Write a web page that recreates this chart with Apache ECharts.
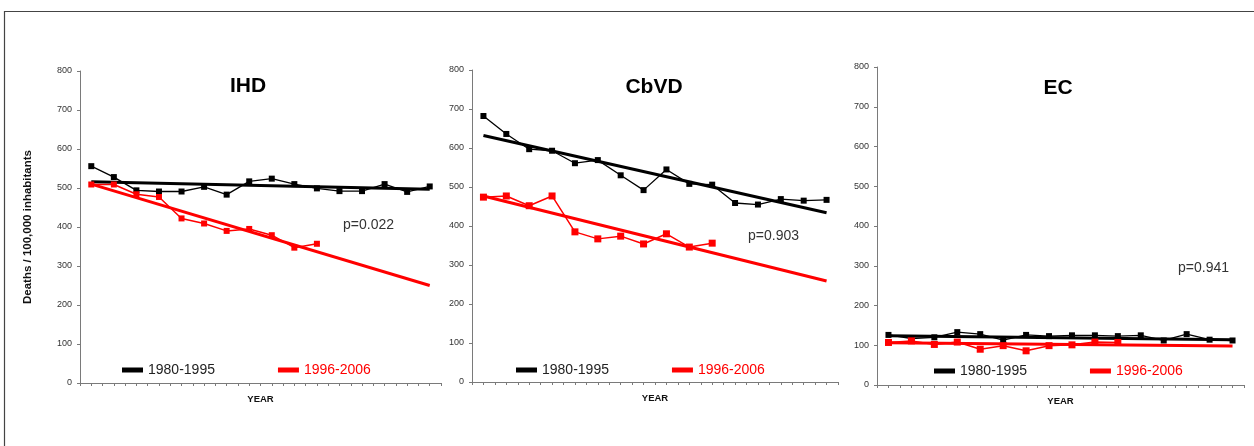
<!DOCTYPE html>
<html>
<head>
<meta charset="utf-8">
<script src="https://cdn.jsdelivr.net/npm/echarts@6/dist/echarts.min.js"></script>
<style>
  html, body { margin: 0; padding: 0; background: #fff; }
  #chart { width: 1254px; height: 446px; }
</style>
</head>
<body>
<div id="chart"></div>
<script>
// years are plotted by index (1980-1995 -> 0..15, 1996-2006 -> 0..10)
const periods = ['1980-1995', '1996-2006'];
const panelTitles = ['IHD', 'CbVD', 'EC'];
const pValues = ['p=0.022', 'p=0.903', 'p=0.941'];
const yTicks = [0, 800, 100]; // min, max, interval

const ihdEarly = [556, 528, 494, 491, 491, 503, 483, 517, 524, 510, 499, 492, 492, 510, 490, 504];
const ihdLate = [509, 509, 484, 477, 422, 409, 390, 395, 379, 347, 357];
const ihdTrendEarly = [516, 497];
const ihdTrendLate = [510, 250];

const cbvdEarly = [682, 636, 597, 593, 561, 569, 530, 492, 545, 508, 506, 459, 455, 469, 465, 467];
const cbvdLate = [474, 477, 452, 477, 385, 367, 374, 354, 380, 346, 356];
const cbvdTrendEarly = [632, 434];
const cbvdTrendLate = [477, 259];

const ecEarly = [126, 117, 120, 133, 128, 113, 126, 123, 125, 125, 123, 125, 112, 128, 114, 112];
const ecLate = [107, 111, 102, 108, 90, 99, 86, 99, 101, 108, 107];
const ecTrendEarly = [124, 114];
const ecTrendLate = [106, 98];

const trendEnds = [0, 15]; // trend lines span the whole 16-year range

const FONT = 'Arial, "Liberation Sans", sans-serif';
const RED = '#ff0000';

// layout of the three panels
const grids = [
  { left: 80, top: 71, width: 361, height: 312 },
  { left: 472, top: 70, width: 366, height: 312 },
  { left: 877, top: 67, width: 367, height: 318 }
];
const titlePos = [[248, 86], [654, 87], [1058, 88]];
const pPos = [[343, 218], [748, 229], [1178, 261]];
const legendPos = [[122, 363], [516, 363], [934, 364]];

const panels = [
  { early: ihdEarly, late: ihdLate, tE: ihdTrendEarly, tL: ihdTrendLate, lateSym: 6 },
  { early: cbvdEarly, late: cbvdLate, tE: cbvdTrendEarly, tL: cbvdTrendLate, lateSym: 7 },
  { early: ecEarly, late: ecLate, tE: ecTrendEarly, tL: ecTrendLate, lateSym: 7 }
];

let xAxes = [], yAxes = [], series = [], legends = [], graphics = [];

panels.forEach((p, i) => {
  xAxes.push({
    type: 'value',
    gridIndex: i,
    min: -0.5,
    max: 15.5,
    interval: 0.5,
    name: 'YEAR',
    nameLocation: 'middle',
    nameGap: 11,
    nameTextStyle: { fontFamily: FONT, fontWeight: 'bold', fontSize: 9.5, color: '#111' },
    axisLine: { show: true, onZero: false, lineStyle: { color: '#7a7a7a', width: 1 } },
    axisTick: { show: true, length: 3, lineStyle: { color: '#7a7a7a' } },
    axisLabel: { show: false },
    splitLine: { show: false }
  });
  yAxes.push({
    type: 'value',
    gridIndex: i,
    min: yTicks[0],
    max: yTicks[1],
    interval: yTicks[2],
    name: i === 0 ? 'Deaths / 100,000 inhabitants' : '',
    nameLocation: 'middle',
    nameGap: 46,
    nameTextStyle: { fontFamily: FONT, fontWeight: 'bold', fontSize: 11.5, color: '#111' },
    axisLine: { show: true, onZero: false, lineStyle: { color: '#7a7a7a', width: 1 } },
    axisTick: { show: true, length: 3, lineStyle: { color: '#7a7a7a' } },
    axisLabel: { fontFamily: FONT, fontSize: 9, color: '#333', margin: 8 },
    splitLine: { show: false }
  });

  // trend lines
  series.push({
    name: periods[0], type: 'line', xAxisIndex: i, yAxisIndex: i,
    data: p.tE.map((v, k) => [trendEnds[k], v]),
    symbol: 'none', lineStyle: { color: '#000', width: 3 }, itemStyle: { color: '#000' },
    z: 2, silent: true
  });
  series.push({
    name: periods[1], type: 'line', xAxisIndex: i, yAxisIndex: i,
    data: p.tL.map((v, k) => [trendEnds[k], v]),
    symbol: 'none', lineStyle: { color: RED, width: 3 }, itemStyle: { color: RED },
    z: 2, silent: true
  });
  // yearly values
  series.push({
    name: periods[0], type: 'line', xAxisIndex: i, yAxisIndex: i,
    data: p.early.map((v, k) => [k, v]),
    symbol: 'rect', symbolSize: 6, showAllSymbol: true,
    lineStyle: { color: '#000', width: 1.3 }, itemStyle: { color: '#000' },
    z: 3
  });
  series.push({
    name: periods[1], type: 'line', xAxisIndex: i, yAxisIndex: i,
    data: p.late.map((v, k) => [k, v]),
    symbol: 'rect', symbolSize: p.lateSym, showAllSymbol: true,
    lineStyle: { color: RED, width: 1.5 }, itemStyle: { color: RED },
    z: 4
  });

  legends.push({
    left: legendPos[i][0],
    top: legendPos[i][1],
    padding: 0,
    itemGap: 63,
    itemWidth: 21,
    itemHeight: 5,
    icon: 'rect',
    selectedMode: false,
    textStyle: { fontFamily: FONT, fontSize: 14 },
    data: [
      { name: periods[0], textStyle: { color: '#222' } },
      { name: periods[1], textStyle: { color: RED } }
    ]
  });

  graphics.push({
    type: 'text',
    x: titlePos[i][0], y: titlePos[i][1],
    style: {
      text: panelTitles[i], fill: '#000', align: 'center', verticalAlign: 'middle',
      font: 'bold 21px ' + FONT
    }
  });
  graphics.push({
    type: 'text',
    x: pPos[i][0], y: pPos[i][1],
    style: { text: pValues[i], fill: '#333', font: '14px ' + FONT }
  });
});

// outer frame (top and left edges)
graphics.push({
  type: 'polyline',
  shape: { points: [[4.5, 446], [4.5, 11.5], [1254, 11.5]] },
  style: { stroke: '#444', lineWidth: 1.2, fill: null }
});

const chart = echarts.init(document.getElementById('chart'));
chart.setOption({
  animation: false,
  backgroundColor: '#fff',
  grid: grids,
  xAxis: xAxes,
  yAxis: yAxes,
  legend: legends,
  series: series,
  graphic: graphics
});
</script>
</body>
</html>
